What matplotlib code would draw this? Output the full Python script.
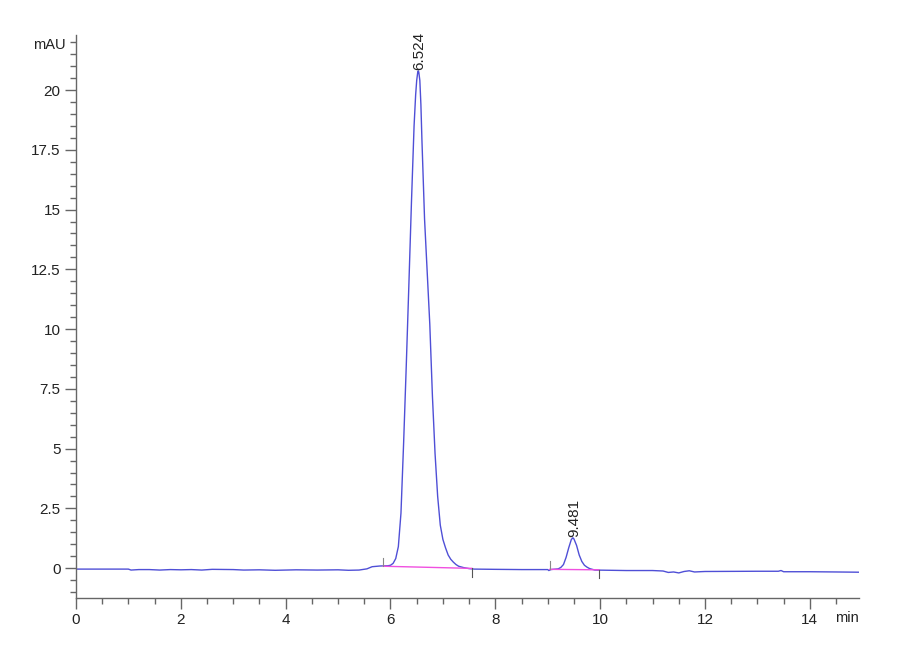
import matplotlib

matplotlib.use("Agg")
import matplotlib.pyplot as plt
from matplotlib.ticker import MultipleLocator, FixedLocator

# chromatogram trace (time in min, signal in mAU)
t_pre = [0.0, 1.0, 1.05, 1.2, 1.4, 1.6, 1.8, 2.0, 2.2, 2.4, 2.6, 3.0, 3.2, 3.5,
         3.8, 4.2, 4.6, 5.0, 5.2, 5.4, 5.55, 5.65, 5.8, 5.95]
y_pre = [-0.04, -0.04, -0.08, -0.06, -0.06, -0.08, -0.06, -0.07, -0.06, -0.08,
         -0.05, -0.06, -0.08, -0.07, -0.09, -0.07, -0.08, -0.07, -0.09, -0.08,
         -0.03, 0.06, 0.09, 0.10]

t_peak1 = [6.0, 6.05, 6.1, 6.15, 6.2, 6.25, 6.3, 6.35, 6.4, 6.45, 6.48, 6.5,
           6.52, 6.53, 6.54, 6.56, 6.58, 6.6, 6.65, 6.7, 6.75, 6.8, 6.85, 6.9,
           6.95, 7.0, 7.05, 7.1, 7.15, 7.2, 7.25, 7.3, 7.4]
y_peak1 = [0.12, 0.2, 0.4, 0.9, 2.3, 5.2, 8.4, 11.8, 15.3, 18.5, 19.8, 20.4,
           20.75, 20.8, 20.75, 20.4, 19.4, 17.9, 14.6, 12.4, 10.2, 7.2, 4.8,
           3.0, 1.8, 1.2, 0.85, 0.55, 0.37, 0.25, 0.15, 0.08, 0.02]

t_mid = [7.5, 7.6, 8.0, 8.5, 9.0, 9.02, 9.06, 9.1, 9.2]
y_mid = [-0.02, -0.04, -0.05, -0.06, -0.06, -0.1, -0.06, -0.05, -0.03]

t_peak2 = [9.25, 9.3, 9.35, 9.4, 9.45, 9.48, 9.5, 9.55, 9.6, 9.65, 9.7, 9.75, 9.8]
y_peak2 = [0.03, 0.15, 0.45, 0.85, 1.2, 1.27, 1.22, 0.95, 0.55, 0.28, 0.12, 0.04, -0.02]

t_post = [9.9, 10.5, 11.0, 11.2, 11.3, 11.4, 11.5, 11.6, 11.7, 11.8, 12.0,
          13.0, 13.4, 13.45, 13.5, 14.0, 14.5, 14.93]
y_post = [-0.08, -0.1, -0.1, -0.12, -0.18, -0.16, -0.2, -0.14, -0.11, -0.16,
          -0.14, -0.13, -0.13, -0.1, -0.15, -0.15, -0.16, -0.17]

# integration baselines (start, end) and peak labels
base_t = [(5.86, 7.55), (9.04, 9.975)]
base_y = [(0.08, -0.01), (-0.05, -0.07)]
peak_rt = [6.524, 9.481]
peak_h = [20.8, 1.27]
peak_lbl = ["6.524", "9.481"]

x_major = [0, 2, 4, 6, 8, 10, 12, 14]
y_major = [0, 2.5, 5, 7.5, 10, 12.5, 15, 17.5, 20]

plt.rcParams["font.family"] = ["Liberation Sans", "DejaVu Sans"]

fig = plt.figure(figsize=(9, 6.6), dpi=100)
ax = fig.add_axes([0.0844, 0.0939, 0.8696, 0.853])

t_all = t_pre + t_peak1 + t_mid + t_peak2 + t_post
y_all = y_pre + y_peak1 + y_mid + y_peak2 + y_post
ax.plot(t_all, y_all, color="#3c3cd2", lw=1.0, alpha=0.9)

for (t0, t1), (b0, b1) in zip(base_t, base_y):
    ax.plot([t0, t1], [b0, b1], color="#f050e0", lw=1.0)
    ax.plot([t0, t0], [b0, b0 + 0.35], color="#888", lw=0.8)
    ax.plot([t1, t1], [b1, b1 - 0.35], color="#555", lw=0.8)

for rt, h, lbl in zip(peak_rt, peak_h, peak_lbl):
    ax.text(rt + 0.02, h + 0.05, lbl, rotation=90, ha="center", va="bottom",
            fontsize=11, color="#222")

ax.set_xlim(0, 14.93)
ax.set_ylim(-1.25, 22.3)

for s in ["top", "right"]:
    ax.spines[s].set_visible(False)
for s in ["left", "bottom"]:
    ax.spines[s].set_color("#666")
    ax.spines[s].set_linewidth(1.0)

ax.xaxis.set_major_locator(FixedLocator(x_major))
ax.xaxis.set_minor_locator(MultipleLocator(0.5))
ax.yaxis.set_major_locator(FixedLocator(y_major))
ax.yaxis.set_minor_locator(MultipleLocator(0.5))
ax.set_xticklabels([str(v) for v in x_major])
ax.set_yticklabels([f"{v:g}" for v in y_major])
ax.tick_params(which="major", length=8, width=1.0, color="#666",
               labelsize=11, labelcolor="#222", pad=3)
ax.tick_params(which="minor", length=4, width=1.0, color="#666")

ax.text(-0.2, 21.9, "mAU", ha="right", va="center", fontsize=10.5, color="#222")
ax.text(14.93, -2.08, "min", ha="right", va="center", fontsize=10.5, color="#222")

fig.savefig("out.png", dpi=100)
